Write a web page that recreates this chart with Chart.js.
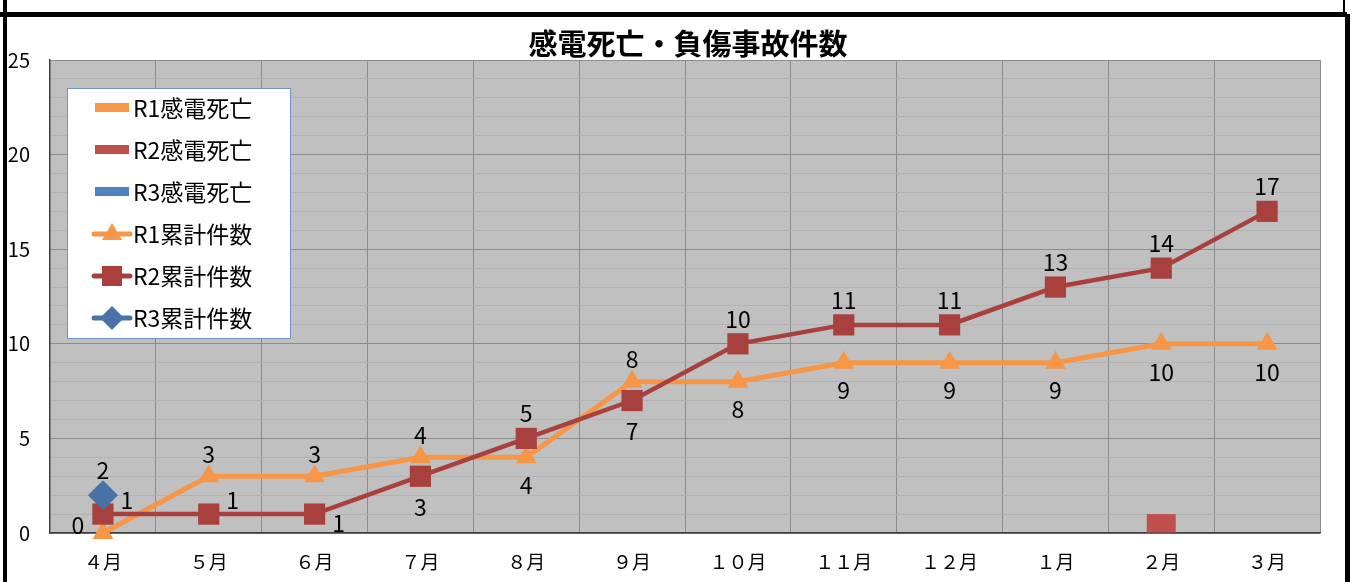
<!DOCTYPE html>
<html lang="ja">
<head>
<meta charset="utf-8">
<title>感電死亡・負傷事故件数</title>
<script src="https://cdn.jsdelivr.net/npm/chart.js@4.4.1/dist/chart.umd.min.js"></script>
<style>
    html, body { margin: 0; padding: 0; background: #fff; overflow: hidden; }
    #wrap { position: relative; width: 1352px; height: 582px; }
    .frame { position: absolute; background: #000; }
</style>
</head>
<body>
<div id="wrap">
    <canvas id="chart1"></canvas>
    <!-- シートの枠線 -->
    <div class="frame" style="left:0;top:12px;width:1347px;height:5px;"></div>
    <div class="frame" style="left:3px;top:0;width:4px;height:582px;"></div>
    <div class="frame" style="left:1343px;top:0;width:2px;height:14px;"></div>
    <div class="frame" style="left:1345px;top:14px;width:5px;height:568px;"></div>
</div>
<script>
// データ
const months = ['４月', '５月', '６月', '７月', '８月', '９月', '１０月', '１１月', '１２月', '１月', '２月', '３月'];
const r1Deaths = [0, 0, 0, 0, 0, 0, 0, 0, 0, 0, 0, 0];
const r2Deaths = [0, 0, 0, 0, 0, 0, 0, 0, 0, 0, 1, 0];
const r3Deaths = [0, null, null, null, null, null, null, null, null, null, null, null];
const r1Total = [0, 3, 3, 4, 4, 8, 8, 9, 9, 9, 10, 10];
const r2Total = [1, 1, 1, 3, 5, 7, 10, 11, 11, 13, 14, 17];
const r3Total = [2, null, null, null, null, null, null, null, null, null, null, null];

// ラベルの位置（上・下・左・右）
const r1LabelPos = ['left', 'above', 'above', 'above', 'below', 'above', 'below', 'below', 'below', 'below', 'below', 'below'];
const r2LabelPos = ['right', 'right', 'rightBelow', 'below', 'above', 'below', 'above', 'above', 'above', 'above', 'above', 'above'];
const r3LabelPos = ['above'];

const FONT = '"Noto Sans CJK JP", "Noto Sans", sans-serif';
const ORANGE = '#F79646';
const RED_LINE = '#A8403E';
const RED_BAR = '#C0504D';
const BLUE = '#4672A8';
const BLUE_BAR = '#4F81BD';

// プロットエリアの背景
const plotBackground = {
    id: 'plotBackground',
    beforeDraw(chart) {
        const {ctx, chartArea} = chart;
        ctx.save();
        ctx.fillStyle = '#c0c0c0';
        ctx.fillRect(chartArea.left, chartArea.top, chartArea.right - chartArea.left, chartArea.bottom - chartArea.top);
        ctx.restore();
    }
};

// タイトル
const chartTitle = {
    id: 'chartTitle',
    afterDraw(chart) {
        const ctx = chart.ctx;
        ctx.save();
        ctx.fillStyle = '#000';
        ctx.font = 'bold 29px ' + FONT;
        ctx.textAlign = 'center';
        ctx.textBaseline = 'middle';
        ctx.fillText('感電死亡・負傷事故件数', 688, 44);
        ctx.restore();
    }
};

// データラベル
const valueLabels = {
    id: 'valueLabels',
    afterDatasetsDraw(chart) {
        const ctx = chart.ctx;
        ctx.save();
        ctx.fillStyle = '#000';
        ctx.font = '23px ' + FONT;
        ctx.textAlign = 'center';
        ctx.textBaseline = 'middle';
        chart.data.datasets.forEach((ds, di) => {
            if (!ds.labelPos) return;
            const meta = chart.getDatasetMeta(di);
            const r = ds.pointRadius;
            meta.data.forEach((pt, i) => {
                const v = ds.data[i];
                if (v === null || v === undefined) return;
                let dx = 0, dy = 0;
                switch (ds.labelPos[i]) {
                    case 'above': dy = -(r + 10); break;
                    case 'below': dy = r + 16; break;
                    case 'left': dx = -25; dy = -8; break;
                    case 'right': dx = 24; dy = -14; break;
                    case 'rightBelow': dx = 24; dy = 9; break;
                }
                ctx.fillText(String(v), pt.x + dx, pt.y + dy);
            });
        });
        ctx.restore();
    }
};

// 凡例（プロットエリア内）
const innerLegend = {
    id: 'innerLegend',
    afterDraw(chart) {
        const ctx = chart.ctx;
        const x0 = 67, y0 = 88, w = 223, h = 250;
        ctx.save();
        ctx.fillStyle = '#fff';
        ctx.fillRect(x0, y0, w, h);
        ctx.strokeStyle = '#6f93c6';
        ctx.lineWidth = 1;
        ctx.strokeRect(x0 + 0.5, y0 + 0.5, w, h);

        const items = [
            {label: 'R1感電死亡', color: ORANGE, kind: 'bar'},
            {label: 'R2感電死亡', color: RED_BAR, kind: 'bar'},
            {label: 'R3感電死亡', color: BLUE_BAR, kind: 'bar'},
            {label: 'R1累計件数', color: ORANGE, kind: 'triangle'},
            {label: 'R2累計件数', color: RED_LINE, kind: 'rect'},
            {label: 'R3累計件数', color: BLUE, kind: 'diamond'}
        ];
        items.forEach((item, i) => {
            const y = 108 + i * 42;
            ctx.fillStyle = item.color;
            if (item.kind === 'bar') {
                ctx.fillRect(95, y - 5, 34, 9);
            } else {
                ctx.strokeStyle = item.color;
                ctx.lineWidth = 5;
                ctx.lineCap = 'round';
                ctx.beginPath();
                ctx.moveTo(94, y);
                ctx.lineTo(130, y);
                ctx.stroke();
                ctx.beginPath();
                if (item.kind === 'triangle') {
                    ctx.moveTo(112, y - 11);
                    ctx.lineTo(122, y + 6);
                    ctx.lineTo(102, y + 6);
                } else if (item.kind === 'rect') {
                    ctx.rect(102, y - 10, 20, 20);
                } else {
                    ctx.moveTo(112, y - 12);
                    ctx.lineTo(124, y);
                    ctx.lineTo(112, y + 12);
                    ctx.lineTo(100, y);
                }
                ctx.closePath();
                ctx.fill();
            }
            ctx.fillStyle = '#000';
            ctx.font = '23px ' + FONT;
            ctx.textAlign = 'left';
            ctx.textBaseline = 'middle';
            ctx.fillText(item.label, 133, y);
        });
        ctx.restore();
    }
};

const barDefaults = {type: 'bar', order: 4, categoryPercentage: 0.822, barPercentage: 1, borderWidth: 0};

new Chart(document.getElementById('chart1').getContext('2d'), {
    data: {
        labels: months,
        datasets: [
            {...barDefaults, label: 'R1感電死亡', data: r1Deaths, backgroundColor: ORANGE},
            {...barDefaults, label: 'R2感電死亡', data: r2Deaths, backgroundColor: RED_BAR},
            {...barDefaults, label: 'R3感電死亡', data: r3Deaths, backgroundColor: BLUE_BAR},
            {
                type: 'line', label: 'R1累計件数', data: r1Total, order: 3,
                borderColor: ORANGE, backgroundColor: ORANGE, borderWidth: 5,
                pointStyle: 'triangle', pointRadius: 12, pointBorderWidth: 0, pointBackgroundColor: ORANGE,
                tension: 0, clip: false, labelPos: r1LabelPos
            },
            {
                type: 'line', label: 'R2累計件数', data: r2Total, order: 2,
                borderColor: RED_LINE, backgroundColor: RED_LINE, borderWidth: 4.5,
                pointStyle: 'rect', pointRadius: 15, pointBorderWidth: 0, pointBackgroundColor: RED_LINE,
                tension: 0, clip: false, labelPos: r2LabelPos
            },
            {
                type: 'line', label: 'R3累計件数', data: r3Total, order: 1,
                borderColor: BLUE, backgroundColor: BLUE, borderWidth: 4.5,
                pointStyle: 'rectRot', pointRadius: 15, pointBorderWidth: 0, pointBackgroundColor: BLUE,
                tension: 0, clip: false, labelPos: r3LabelPos
            }
        ]
    },
    options: {
        responsive: true,
        maintainAspectRatio: false,
        animation: false,
        layout: {padding: {top: 60, right: 32, bottom: 0, left: 0}},
        plugins: {
            legend: {display: false},
            title: {display: false},
            tooltip: {enabled: false}
        },
        scales: {
            x: {
                offset: true,
                afterFit: (scale) => { scale.height = 49; },
                grid: {offset: true, color: '#8c8c8c', lineWidth: 1, drawTicks: false},
                border: {display: true, color: '#404040', width: 1.5},
                ticks: {color: '#000', font: {family: FONT, size: 19}, padding: 17, maxRotation: 0, autoSkip: false}
            },
            y: {
                min: 0,
                max: 25,
                afterFit: (scale) => { scale.width = 50; },
                grid: {
                    drawTicks: false,
                    color: (ctx) => (ctx.tick && ctx.tick.value % 5 === 0) ? '#8c8c8c' : '#b3b3b3',
                    lineWidth: 1
                },
                border: {display: true, color: '#404040', width: 1.5},
                ticks: {
                    stepSize: 1,
                    autoSkip: false,
                    padding: 20,
                    color: '#000',
                    font: {family: FONT, size: 20},
                    callback: (value) => value % 5 === 0 ? value : ''
                }
            }
        }
    },
    plugins: [plotBackground, valueLabels, innerLegend, chartTitle]
});
</script>
</body>
</html>
